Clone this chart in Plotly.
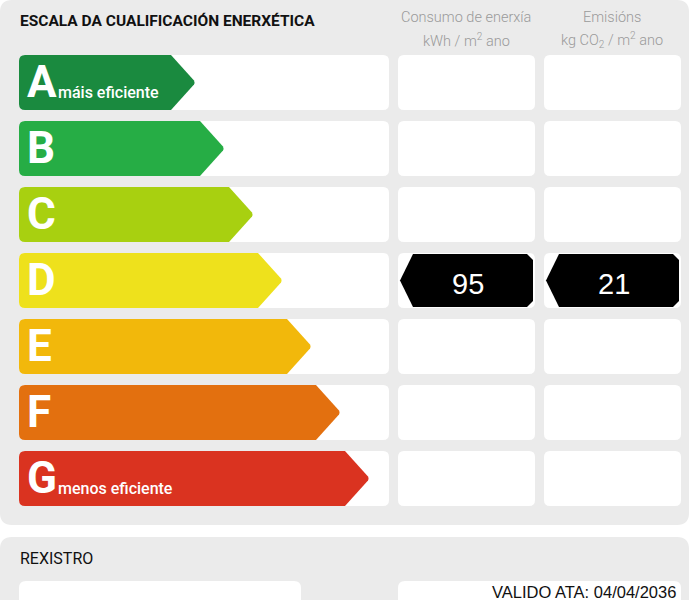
import plotly.graph_objects as go

# ---- data ----
classes = ["A", "B", "C", "D", "E", "F", "G"]
class_colors = ["#1a8a3f", "#26ad45", "#a8d010", "#eee11c", "#f2b80b", "#e3700f", "#da3320"]
class_notes = {"A": "máis eficiente", "G": "menos eficiente"}
rating_class = "D"
energy_value = 95
emission_value = 21
title_text = "ESCALA DA CUALIFICACIÓN ENERXÉTICA"
col_header_lines = [["Consumo de enerxía", "kWh / m<sup>2</sup> ano"],
                    ["Emisións", "kg CO<sub>2</sub> / m<sup>2</sup> ano"]]
registry_label = "REXISTRO"
valid_text = "VALIDO ATA: 04/04/2036"

W, H = 690, 600
NARROW = "Roboto, Liberation Sans Narrow, sans-serif"
ARIAL = "Liberation Sans, Arial, sans-serif"

shapes = []
annotations = []


def rrect(x0, y0, x1, y1, r, fill):
    p = (f"M{x0+r},{y0} L{x1-r},{y0} Q{x1},{y0} {x1},{y0+r} L{x1},{y1-r} Q{x1},{y1} {x1-r},{y1} "
         f"L{x0+r},{y1} Q{x0},{y1} {x0},{y1-r} L{x0},{y0+r} Q{x0},{y0} {x0+r},{y0} Z")
    shapes.append(dict(type="path", path=p, fillcolor=fill, line=dict(width=0), layer="below"))


# panels
rrect(0, 0, 689, 525, 12, "#ebebeb")
rrect(0, 537, 689, 640, 12, "#ebebeb")

# title
annotations.append(dict(x=18, y=21, text=f"<b>{title_text}</b>", xanchor="left", yanchor="middle",
                        showarrow=False, font=dict(family=NARROW, size=15.5, color="#111")))
# headers
for cx, lines in zip([466, 612], col_header_lines):
    for k, (yy, txt) in enumerate(zip([17, 40], lines)):
        annotations.append(dict(x=cx, y=yy, text=txt, xanchor="center", yanchor="middle", showarrow=False,
                                font=dict(family=NARROW, size=14.5, color="#9a9a9a", weight=300)))

row_top0, row_step, row_h = 55, 66, 55
col_x = [(19, 389), (398, 535), (544, 681)]
arrow_x0, arrow_end0, arrow_step, tip = 19, 195, 29, 24

for i, (c, col) in enumerate(zip(classes, class_colors)):
    y0 = row_top0 + i * row_step
    y1 = y0 + row_h
    ym = (y0 + y1) / 2
    for j, (cx0, cx1) in enumerate(col_x):
        rrect(cx0, y0, cx1, y1, 6, "white")
    xe = arrow_end0 + i * arrow_step
    r = 6
    p = (f"M{arrow_x0+r},{y0} L{xe-tip},{y0} L{xe-1},{ym-2} Q{xe},{ym} {xe-1},{ym+2} L{xe-tip},{y1} "
         f"L{arrow_x0+r},{y1} Q{arrow_x0},{y1} {arrow_x0},{y1-r} L{arrow_x0},{y0+r} Q{arrow_x0},{y0} {arrow_x0+r},{y0} Z")
    shapes.append(dict(type="path", path=p, fillcolor=col, line=dict(width=0)))
    annotations.append(dict(x=25, y=ym - 1, text=f"<b>{c}</b>", xanchor="left", yanchor="middle", showarrow=False,
                            font=dict(family=NARROW, size=44, color="white")))
    if c in class_notes:
        annotations.append(dict(x=56, y=ym + 10, text=class_notes[c], xanchor="left", yanchor="middle",
                                showarrow=False, font=dict(family=NARROW, size=16, color="white", weight=500)))
    if c == rating_class:
        for (cx0, cx1), val in zip(col_x[1:], [energy_value, emission_value]):
            bx0, bx1 = cx0 + 2, cx1 - 2
            ch = 6
            p = (f"M{bx0},{ym} L{bx0+13},{y0+1} L{bx1-ch},{y0+1} L{bx1},{y0+1+ch} L{bx1},{y1-1-ch} "
                 f"L{bx1-ch},{y1-1} L{bx0+13},{y1-1} Z")
            shapes.append(dict(type="path", path=p, fillcolor="black", line=dict(width=0)))
            annotations.append(dict(x=(bx0 + bx1) / 2 + 1, y=ym + 3, text=str(val), xanchor="center",
                                    yanchor="middle", showarrow=False,
                                    font=dict(family=ARIAL, size=29, color="white")))

# registry panel
annotations.append(dict(x=18, y=558, text=registry_label, xanchor="left", yanchor="middle", showarrow=False,
                        font=dict(family=NARROW, size=16, color="#111")))
rrect(19, 581, 301, 640, 7, "white")
rrect(398, 581, 681, 640, 7, "white")
annotations.append(dict(x=678, y=592, text=valid_text, xanchor="right", yanchor="middle", showarrow=False,
                        font=dict(family=ARIAL, size=16.5, color="#111")))

fig = go.Figure()
fig.add_trace(go.Scatter(x=[0, W], y=[0, H], mode="markers", marker=dict(opacity=0),
                         hoverinfo="skip", showlegend=False))
fig.update_layout(
    width=W, height=H, margin=dict(l=0, r=0, t=0, b=0),
    paper_bgcolor="white", plot_bgcolor="white",
    xaxis=dict(range=[0, W], visible=False, fixedrange=True),
    yaxis=dict(range=[H, 0], visible=False, fixedrange=True),
    shapes=shapes, annotations=annotations, showlegend=False,
)
fig.write_html("out.html", config={"displayModeBar": False},
               post_script="document.body.style.margin='0px';document.body.style.overflow='hidden';")
